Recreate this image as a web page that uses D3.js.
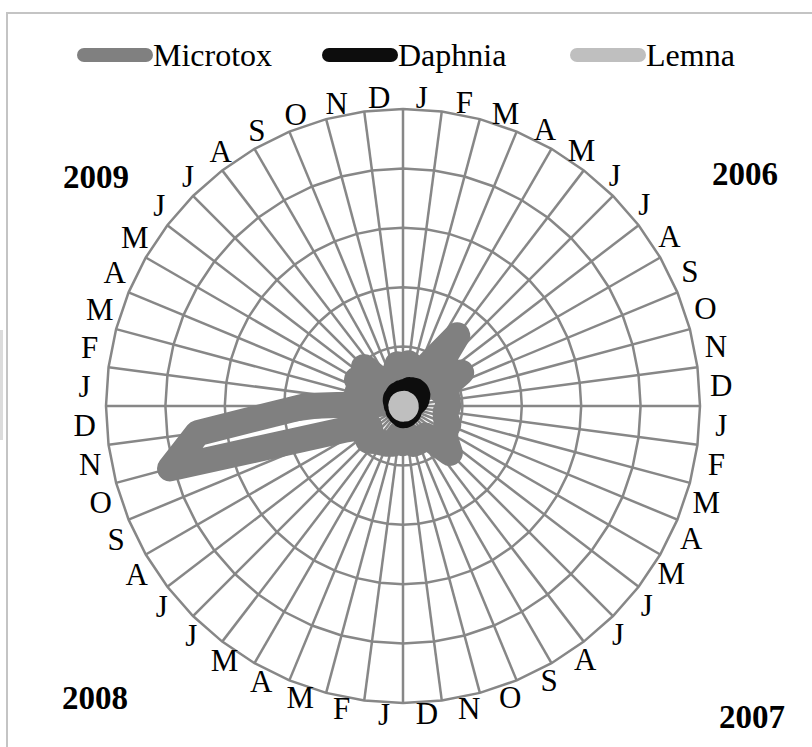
<!DOCTYPE html>
<html>
<head>
<meta charset="utf-8">
<script src="https://cdn.jsdelivr.net/npm/d3@7"></script>
<style>
  body { margin: 0; background: #fff; }
  svg { display: block; font-family: "Liberation Serif", "Times New Roman", serif; }
</style>
</head>
<body>
<svg id="chart" width="812" height="747"></svg>
<script>
// month initials, one per spoke, repeated for every year
const months = ["J", "F", "M", "A", "M", "J", "J", "A", "S", "O", "N", "D"];
const years = ["2006", "2007", "2008", "2009"];
const seriesNames = ["Microtox", "Daphnia", "Lemna"];

// values (ring = 20)
const microtox = [
  9.1, 14.5, 7.8, 13.2, 14.5, 30.0, 14.5, 15.9, 22.6, 13.8, 15.2, 15.2,
  15.2, 14.5, 14.9, 16.5, 16.5, 17.9, 22.3, 12.5, 12.5, 13.2, 13.2, 9.8,
  12.5, 9.8, 13.2, 13.8, 14.2, 14.9, 16.5, 13.8, 13.2, 20.6, 81.2, 69.7,
  32.7, 6.4, 15.9, 8.5, 17.9, 9.1, 18.6, 7.8, 10.5, 7.1, 11.1, 14.2
];
const daphnia = [
  4.4, 4.8, 5.1, 5.8, 6.1, 6.4, 6.4, 6.1, 5.4, 4.8, 3.7, 3.1,
  2.7, 2.4, 2.4, 2.4, 2.4, 2.4, 2.7, 2.7, 2.7, 2.7, 3.1, 3.1,
  3.1, 2.7, 2.4, 2.4, 2.1, 2.1, 2.1, 1.7, 1.7, 1.7, 1.7, 1.7,
  1.7, 2.1, 2.1, 2.4, 2.7, 3.1, 3.4, 3.4, 3.7, 4.1, 4.1, 4.4
];
const lemna = [
  0.7, 0.7, 0.7, 0.7, 0.8, 0.8, 0.8, 0.8, 0.9, 0.9, 0.9, 0.9,
  0.9, 0.9, 0.9, 1.0, 1.0, 1.0, 1.0, 1.0, 1.0, 0.9, 0.9, 0.9,
  0.9, 0.8, 0.8, 0.7, 0.7, 0.6, 0.6, 0.6, 0.5, 0.5, 0.5, 0.5,
  0.5, 0.5, 0.5, 0.5, 0.6, 0.6, 0.6, 0.6, 0.7, 0.7, 0.7, 0.7
];
const ringTicks = [20, 40, 60, 80, 100];

const categories = years.flatMap(y => months.map(m => ({ year: y, month: m })));
const n = categories.length;

const cx = 403, cy = 406, R = 297;
const colors = { Microtox: "#808080", Daphnia: "#0d0d0d", Lemna: "#bfbfbf" };
const lineW = 26;
const gridColor = "#878787";

const svg = d3.select("#chart");

svg.append("rect")
  .attr("x", 7).attr("y", 13)
  .attr("width", 830).attr("height", 760)
  .attr("fill", "#fff")
  .attr("stroke", "#c4c4c4")
  .attr("stroke-width", 2);

// faint strip on the left edge of the original
svg.append("rect")
  .attr("x", 0).attr("y", 330)
  .attr("width", 3).attr("height", 110)
  .attr("fill", "#dcdcdc");

const r = d3.scaleLinear().domain([0, 100]).range([0, R]);
const angle = d3.scaleLinear().domain([0, n]).range([0, 2 * Math.PI]);

const g = svg.append("g").attr("transform", `translate(${cx},${cy})`);

// grid: polygon rings and spokes
const radialLine = d3.lineRadial()
  .angle((d, i) => angle(i))
  .radius(d => r(d))
  .curve(d3.curveLinearClosed);

g.selectAll(".ring")
  .data(ringTicks)
  .join("path")
  .attr("class", "ring")
  .attr("d", t => radialLine(d3.range(n).map(() => t)))
  .attr("fill", "none")
  .attr("stroke", gridColor)
  .attr("stroke-width", 2.5);

g.selectAll(".spoke")
  .data(categories)
  .join("line")
  .attr("class", "spoke")
  .attr("x1", 0).attr("y1", 0)
  .attr("x2", (d, i) => r(100) * Math.sin(angle(i)))
  .attr("y2", (d, i) => -r(100) * Math.cos(angle(i)))
  .attr("stroke", gridColor)
  .attr("stroke-width", 2.5);

// series
const series = [
  { name: "Microtox", values: microtox },
  { name: "Daphnia", values: daphnia },
  { name: "Lemna", values: lemna }
];

g.selectAll(".series")
  .data(series)
  .join("path")
  .attr("class", "series")
  .attr("d", d => radialLine(d.values))
  .attr("fill", "none")
  .attr("stroke", d => colors[d.name])
  .attr("stroke-width", lineW)
  .attr("stroke-linejoin", "round");

// category labels, nudged round the circle like the original
g.selectAll(".cat")
  .data(categories)
  .join("text")
  .attr("class", "cat")
  .each(function (d, i) {
    const deg = i * 360 / n;
    const rad = deg * Math.PI / 180;
    const a = (deg + 3.5 + 1.7 * Math.sin(2 * rad)) * Math.PI / 180;
    const labR = 309 + 10 * Math.sin(rad) ** 2;
    d3.select(this)
      .attr("x", labR * Math.sin(a))
      .attr("y", -labR * Math.cos(a));
  })
  .attr("dy", "0.33em")
  .attr("text-anchor", "middle")
  .attr("font-size", 31)
  .attr("fill", "#000")
  .text(d => d.month);

// year labels in the corners
const yearPos = { "2006": [745, 174], "2007": [752, 717], "2008": [95, 698], "2009": [96, 177] };
svg.selectAll(".year")
  .data(years)
  .join("text")
  .attr("class", "year")
  .attr("x", d => yearPos[d][0])
  .attr("y", d => yearPos[d][1])
  .attr("dy", "0.34em")
  .attr("text-anchor", "middle")
  .attr("font-size", 33)
  .attr("font-weight", "bold")
  .text(d => d);

// legend
const legendX = [78, 323, 571];
const legend = svg.selectAll(".legend")
  .data(seriesNames)
  .join("g")
  .attr("class", "legend")
  .attr("transform", (d, i) => `translate(${legendX[i]},55)`);

legend.append("line")
  .attr("x1", 6).attr("x2", 68)
  .attr("y1", 0).attr("y2", 0)
  .attr("stroke", d => colors[d])
  .attr("stroke-width", 14)
  .attr("stroke-linecap", "round");

legend.append("text")
  .attr("x", 75)
  .attr("y", 0)
  .attr("dy", "0.33em")
  .attr("font-size", 32)
  .text(d => d);
</script>
</body>
</html>
